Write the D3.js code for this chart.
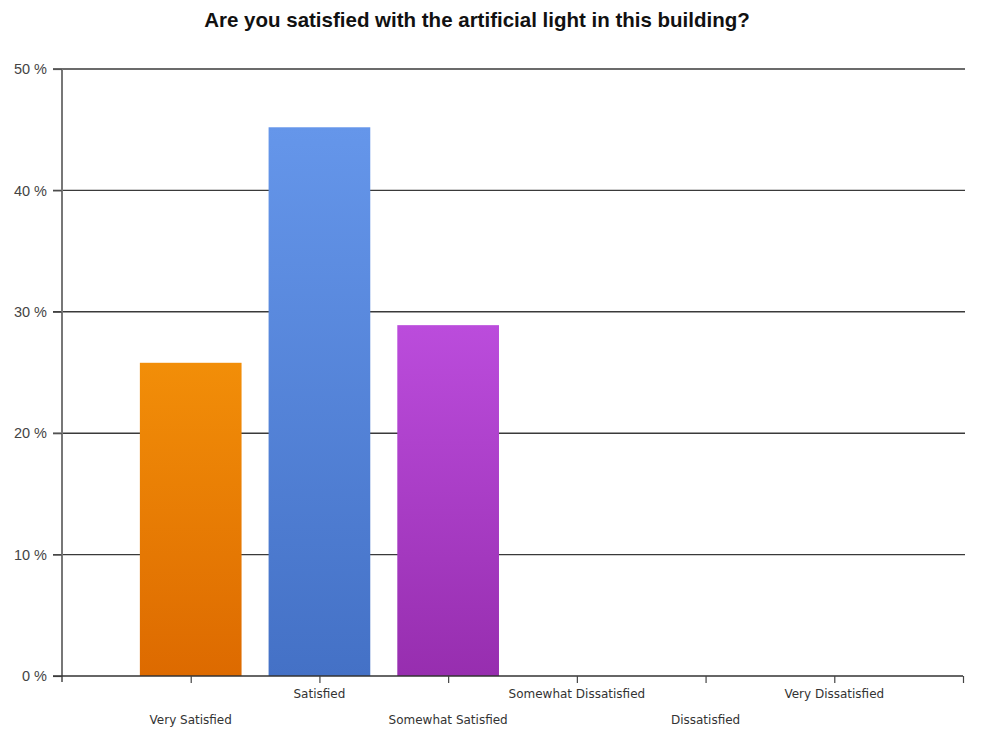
<!DOCTYPE html>
<html><head><meta charset="utf-8">
<script src="https://cdn.jsdelivr.net/npm/d3@7"></script>
<style>body{margin:0;background:#fff;}svg{display:block;}</style>
</head><body>
<svg id="chart" width="989" height="731"></svg>
<script>
const title = "Are you satisfied with the artificial light in this building?";
const categories = ["Very Satisfied","Satisfied","Somewhat Satisfied","Somewhat Dissatisfied","Dissatisfied","Very Dissatisfied"];
const values = [25.8, 45.2, 28.9, 0, 0, 0];
const barColors = [["#f28e08","#dd6a00"],["#6596ea","#4471c6"],["#bb4cdc","#972eaf"],["#888","#888"],["#888","#888"],["#888","#888"]];
const yTicks = [0,10,20,30,40,50];

(function(){
const svg = d3.select("#chart");
const mLeft = 62, mRight = 963, mTop = 69, mBottom = 676;
const x = d3.scaleLinear().domain([0, categories.length + 1]).range([mLeft, mRight]);
const y = d3.scaleLinear().domain([0, 50]).range([mBottom, mTop]);
const step = x(1) - x(0);
const bw = step * 0.79;

const defs = svg.append("defs");
barColors.forEach((c, i) => {
  const g = defs.append("linearGradient").attr("id", "g" + i).attr("x1", 0).attr("y1", 0).attr("x2", 0).attr("y2", 1);
  g.append("stop").attr("offset", "0%").attr("stop-color", c[0]);
  g.append("stop").attr("offset", "100%").attr("stop-color", c[1]);
});

svg.append("text").attr("x", 477).attr("y", 27).attr("text-anchor", "middle")
  .attr("font-family", "Liberation Sans, Arial, sans-serif").attr("font-weight", "bold")
  .attr("font-size", "20.5px").attr("fill", "#111").text(title);

svg.append("g").selectAll("line").data(yTicks.filter(d => d > 0)).join("line")
  .attr("x1", 53).attr("x2", 965).attr("y1", d => y(d)).attr("y2", d => y(d))
  .attr("stroke", "#3a3a3a").attr("stroke-width", 1.4);

svg.append("g").selectAll("rect").data(values).join("rect")
  .attr("x", (d, i) => x(i + 1) - bw / 2).attr("width", bw)
  .attr("y", d => y(d)).attr("height", d => mBottom - y(d))
  .attr("fill", (d, i) => `url(#g${i})`);

const yAxis = d3.axisLeft(y).tickValues(yTicks).tickSize(9).tickPadding(6).tickFormat(d => d + " %");
const ya = svg.append("g").attr("transform", `translate(${mLeft},0)`).call(yAxis);
ya.select(".domain").attr("stroke", "#777").attr("stroke-width", 2).attr("d", `M0,${mTop}V${mBottom + 6}`);
ya.selectAll(".tick line").attr("stroke", "#555").attr("stroke-width", 1.2);
ya.selectAll(".tick text").attr("font-family", "Liberation Sans, Arial, sans-serif").attr("font-size", "14.5px").attr("fill", "#444");

const xAxis = d3.axisBottom(x).tickValues(d3.range(1, categories.length + 2)).tickSize(7).tickFormat("");
const xa = svg.append("g").attr("transform", `translate(0,${mBottom})`).call(xAxis);
xa.select(".domain").attr("stroke", "#333").attr("stroke-width", 1.4).attr("d", `M${mLeft - 9},0H${mRight}`);
xa.selectAll(".tick line").attr("stroke", "#444").attr("stroke-width", 1.2);

svg.append("g").selectAll("text").data(categories).join("text")
  .attr("x", (d, i) => x(i + 1)).attr("y", (d, i) => i % 2 === 0 ? 724 : 698)
  .attr("text-anchor", "middle").attr("font-family", "DejaVu Sans, sans-serif")
  .attr("font-size", "12px").attr("fill", "#333").text(d => d);
})();
</script>
</body></html>
